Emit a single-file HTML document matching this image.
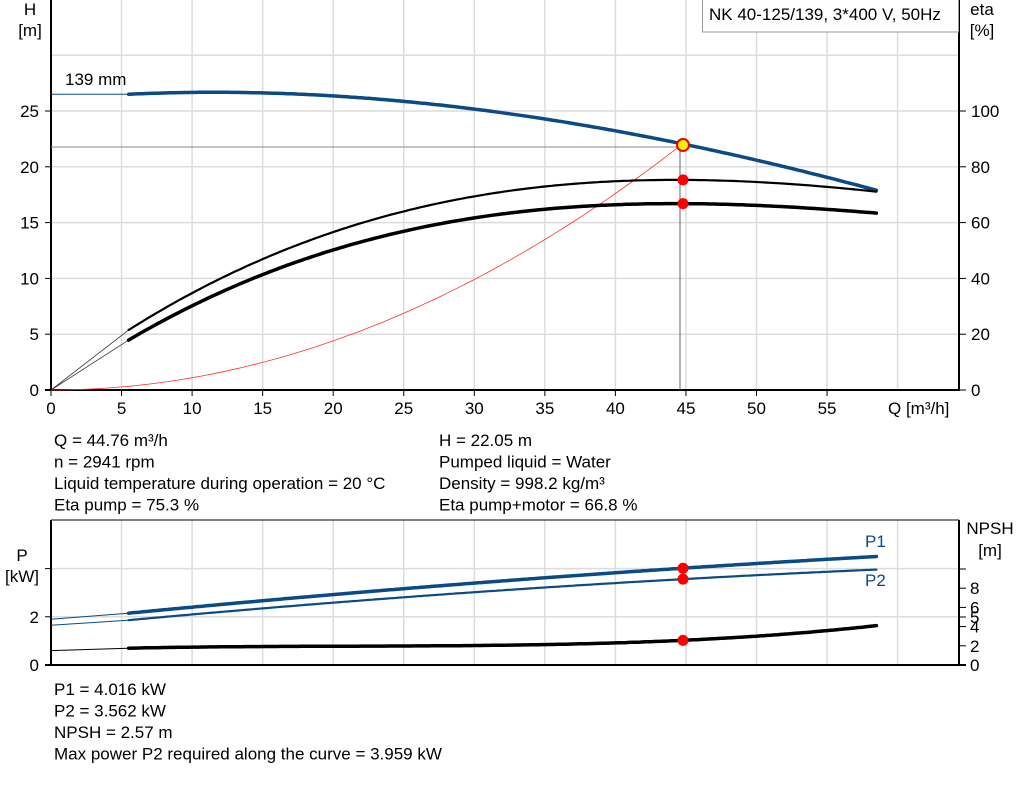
<!DOCTYPE html>
<html><head><meta charset="utf-8"><style>
body{margin:0;background:#fff;width:1024px;height:781px;overflow:hidden}
svg{font-family:"Liberation Sans",Arial,sans-serif}
</style></head><body>
<svg id="s" width="1024" height="781" xmlns="http://www.w3.org/2000/svg" font-size="17">
<g id="grid" stroke="#dcdcdc" stroke-width="1.5"></g>
<g id="g"></g>
</svg>
<script>
const S=document.getElementById('s'),G=document.getElementById('g'),GR=document.getElementById('grid');
const NS='http://www.w3.org/2000/svg';
function el(p,t,a,txt){const e=document.createElementNS(NS,t);for(const k in a)e.setAttribute(k,a[k]);if(txt!==undefined)e.textContent=txt;p.appendChild(e);return e;}
const X=q=>51+q*14.11;
const HY=h=>390-h*11.16, EY=e=>390-e*2.79, PY=p=>665-p*24.1, NY=n=>665-n*9.6;
function lag(pts){return x=>{let s=0;for(let i=0;i<pts.length;i++){let t=pts[i][1];for(let j=0;j<pts.length;j++)if(j!=i)t*=(x-pts[j][0])/(pts[i][0]-pts[j][0]);s+=t;}return s;};}
function curve(f,yf,a,b,attrs){let d='';for(let q=a;q<=b+1e-9;q+=0.25){d+=(d?'L':'M')+X(q).toFixed(1)+','+yf(f(q)).toFixed(1);}el(G,'path',Object.assign({d:d,fill:'none','stroke-linecap':'round'},attrs));}
// grid top
for(let i=1;i<=12;i++){const x=X(i*5);if(x<959)el(GR,'line',{x1:x,y1:0,x2:x,y2:390});}
for(let h=5;h<=30;h+=5)el(GR,'line',{x1:51,y1:HY(h),x2:959,y2:HY(h)});
// grid bottom
for(let i=1;i<=12;i++){const x=X(i*5);if(x<959)el(GR,'line',{x1:x,y1:520,x2:x,y2:665});}
el(GR,'line',{x1:51,y1:PY(2),x2:959,y2:PY(2)});el(GR,'line',{x1:51,y1:PY(4),x2:959,y2:PY(4)});
// axes top
el(G,'line',{x1:51,y1:0,x2:51,y2:391,stroke:'#000','stroke-width':2});
el(G,'line',{x1:45,y1:390,x2:960,y2:390,stroke:'#000','stroke-width':2});
el(G,'line',{x1:959,y1:0,x2:959,y2:391,stroke:'#000','stroke-width':2});
for(let h=0;h<=25;h+=5){el(G,'line',{x1:45,y1:HY(h),x2:51,y2:HY(h),stroke:'#000'});el(G,'text',{x:39,y:HY(h)+6,'text-anchor':'end'},h);}
for(let e=0;e<=100;e+=20){el(G,'line',{x1:959,y1:EY(e),x2:966,y2:EY(e),stroke:'#000'});el(G,'text',{x:971,y:EY(e)+6},e);}
for(let i=0;i<=11;i++){el(G,'line',{x1:X(i*5),y1:390,x2:X(i*5),y2:396,stroke:'#000'});el(G,'text',{x:X(i*5),y:414,'text-anchor':'middle'},i*5);}
el(G,'text',{x:888,y:414},'Q [m³/h]');
el(G,'text',{x:30,y:15,'text-anchor':'middle'},'H');el(G,'text',{x:30,y:36,'text-anchor':'middle'},'[m]');
el(G,'text',{x:982,y:15,'text-anchor':'middle'},'eta');el(G,'text',{x:982,y:36,'text-anchor':'middle'},'[%]');
el(G,'rect',{x:702.5,y:-1,width:256,height:33,fill:'#fff',stroke:'#999'});
el(G,'text',{x:709,y:20},'NK 40-125/139, 3*400 V, 50Hz');
el(G,'text',{x:65,y:85},'139 mm');
// reference lines
el(G,'line',{x1:51,y1:147,x2:682,y2:147,stroke:'#888','stroke-width':1});
el(G,'line',{x1:680,y1:147,x2:680,y2:390,stroke:'#666','stroke-width':1});
// system curve
let d='';for(let q=0;q<=44.76;q+=0.5){d+=(d?'L':'M')+X(q).toFixed(1)+','+HY(22.05*Math.pow(q/44.76,2)).toFixed(1);}d+='L'+X(44.76)+','+HY(22.05);
el(G,'path',{d:d,fill:'none',stroke:'#ff3030','stroke-width':0.8});
// H curve
const H=lag([[5.5,26.5],[14,26.65],[44.76,22.05],[58.5,17.9]]);
el(G,'line',{x1:51,y1:HY(26.5),x2:X(5.5),y2:HY(26.5),stroke:'#0b4a84','stroke-width':1});
curve(H,HY,5.5,58.5,{stroke:'#0b4a84','stroke-width':3.5});
// eta curves
const E1=lag([[5.5,21.5],[20,56.6],[45,75.3],[58.5,71.1]]);
const E2=lag([[5.5,17.9],[20,50.2],[45,66.8],[58.5,63.4]]);
el(G,'line',{x1:51,y1:390,x2:X(5.5),y2:EY(21.5),stroke:'#333','stroke-width':0.8});
el(G,'line',{x1:51,y1:390,x2:X(5.5),y2:EY(17.9),stroke:'#333','stroke-width':0.8});
curve(E1,EY,5.5,58.5,{stroke:'#000','stroke-width':2.2});
curve(E2,EY,5.5,58.5,{stroke:'#000','stroke-width':3.5});
el(G,'circle',{cx:683,cy:EY(75.3),r:5.5,fill:'#f00'});
el(G,'circle',{cx:683,cy:EY(66.8),r:5.5,fill:'#f00'});
el(G,'circle',{cx:683,cy:145,r:6,fill:'#ffee00',stroke:'#e00','stroke-width':2});
// info text
const L1=['Q = 44.76 m³/h','n = 2941 rpm','Liquid temperature during operation = 20 °C','Eta pump = 75.3 %'];
const L2=['H = 22.05 m','Pumped liquid = Water','Density = 998.2 kg/m³','Eta pump+motor = 66.8 %'];
L1.forEach((t,i)=>el(G,'text',{x:54,y:446+i*21.5},t));
L2.forEach((t,i)=>el(G,'text',{x:439,y:446+i*21.5},t));
// bottom axes
el(G,'line',{x1:51,y1:520,x2:51,y2:666,stroke:'#000','stroke-width':2});
el(G,'line',{x1:45,y1:665,x2:966,y2:665,stroke:'#000','stroke-width':2});
el(G,'line',{x1:959,y1:520,x2:959,y2:666,stroke:'#000','stroke-width':2});
el(G,'line',{x1:51,y1:520,x2:959,y2:520,stroke:'#000','stroke-width':1});
[0,2,4].forEach(p=>{el(G,'line',{x1:45,y1:PY(p),x2:51,y2:PY(p),stroke:'#000'});if(p<4)el(G,'text',{x:39,y:PY(p)+6,'text-anchor':'end'},p);});
[0,2,4,5,6,8,10].forEach(n=>{el(G,'line',{x1:959,y1:NY(n),x2:966,y2:NY(n),stroke:'#000'});if(n<10)el(G,'text',{x:970,y:NY(n)+6},n);});
el(G,'text',{x:22,y:561,'text-anchor':'middle'},'P');el(G,'text',{x:22,y:582,'text-anchor':'middle'},'[kW]');
el(G,'text',{x:990,y:534,'text-anchor':'middle'},'NPSH');el(G,'text',{x:990,y:556,'text-anchor':'middle'},'[m]');
const P1=lag([[5.5,2.15],[44.76,4.016],[58.5,4.5]]);
const P2=lag([[5.5,1.86],[44.76,3.562],[58.5,3.96]]);
const NP=lag([[5.5,1.75],[19,1.95],[44.76,2.57],[58.5,4.1]]);
el(G,'line',{x1:51,y1:PY(1.9),x2:X(5.5),y2:PY(2.15),stroke:'#0b4a84','stroke-width':1});
el(G,'line',{x1:51,y1:PY(1.65),x2:X(5.5),y2:PY(1.86),stroke:'#0b4a84','stroke-width':1});
el(G,'line',{x1:51,y1:NY(1.5),x2:X(5.5),y2:NY(1.75),stroke:'#000','stroke-width':1});
curve(P1,PY,5.5,58.5,{stroke:'#0b4a84','stroke-width':3.5});
curve(P2,PY,5.5,58.5,{stroke:'#0b4a84','stroke-width':2.2});
curve(NP,NY,5.5,58.5,{stroke:'#000','stroke-width':3.5});
el(G,'circle',{cx:683,cy:PY(4.016),r:5.5,fill:'#f00'});
el(G,'circle',{cx:683,cy:PY(3.562),r:5.5,fill:'#f00'});
el(G,'circle',{cx:683,cy:NY(2.57),r:5.5,fill:'#f00'});
el(G,'text',{x:865,y:547,fill:'#0b4a84'},'P1');
el(G,'text',{x:865,y:586,fill:'#0b4a84'},'P2');
['P1 = 4.016 kW','P2 = 3.562 kW','NPSH = 2.57 m','Max power P2 required along the curve = 3.959 kW'].forEach((t,i)=>el(G,'text',{x:54,y:695+i*21.5},t));
</script>
</body></html>
